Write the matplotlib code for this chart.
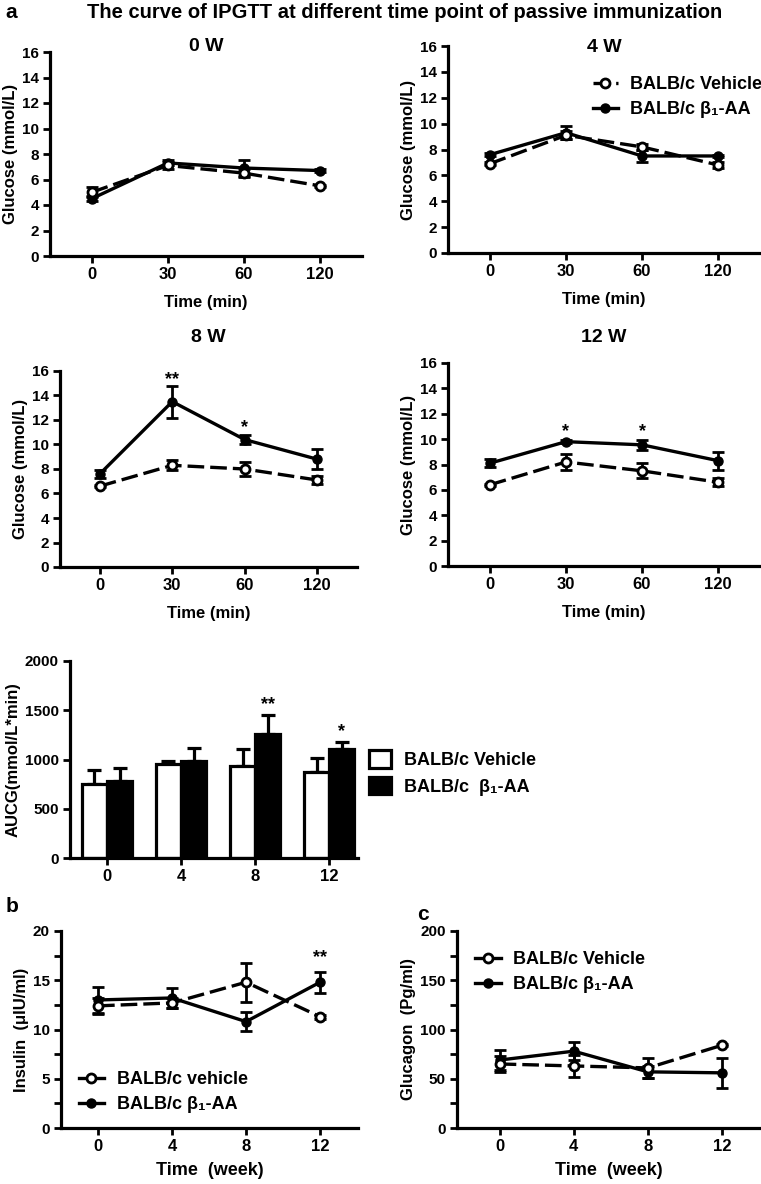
import numpy as np
import matplotlib
matplotlib.use('Agg')
from matplotlib import pyplot as plt
from matplotlib.lines import Line2D
from matplotlib.patches import Patch

plt.rcParams['font.family'] = ['Liberation Sans', 'DejaVu Sans']
plt.rcParams['font.weight'] = 'bold'
plt.rcParams['axes.labelweight'] = 'bold'
plt.rcParams['axes.titleweight'] = 'bold'

# IPGTT glucose curves (mmol/L)
time_labels = ['0', '30', '60', '120']
veh_0w = [5.0, 7.1, 6.5, 5.5]
veh_0w_err = [0.4, 0.3, 0.3, 0.1]
aa_0w = [4.5, 7.3, 6.9, 6.7]
aa_0w_err = [0.2, 0.2, 0.6, 0.1]
veh_4w = [6.9, 9.1, 8.2, 6.8]
veh_4w_err = [0.1, 0.3, 0.2, 0.2]
aa_4w = [7.6, 9.3, 7.5, 7.5]
aa_4w_err = [0.1, 0.5, 0.5, 0.1]
veh_8w = [6.6, 8.3, 8.0, 7.1]
veh_8w_err = [0.1, 0.4, 0.6, 0.3]
aa_8w = [7.6, 13.5, 10.4, 8.8]
aa_8w_err = [0.3, 1.3, 0.4, 0.8]
veh_12w = [6.4, 8.2, 7.5, 6.6]
veh_12w_err = [0.1, 0.6, 0.6, 0.3]
aa_12w = [8.1, 9.8, 9.55, 8.3]
aa_12w_err = [0.3, 0.1, 0.4, 0.7]

# AUCG bars
week_labels = ['0', '4', '8', '12']
auc_veh = [752, 954, 930, 877]
auc_veh_err = [142, 30, 175, 135]
auc_aa = [782, 985, 1258, 1108]
auc_aa_err = [129, 128, 192, 66]

# insulin and glucagon
weeks = [0, 4, 8, 12]
ins_veh = [12.4, 12.7, 14.8, 11.3]
ins_veh_err = [0.8, 0.5, 2.0, 0.2]
ins_aa = [13.0, 13.2, 10.8, 14.8]
ins_aa_err = [1.3, 1.0, 1.0, 1.05]
glc_veh = [65, 63, 61, 84]
glc_veh_err = [8, 11, 10, 1]
glc_aa = [69, 78, 57, 56]
glc_aa_err = [10, 9, 6, 15]

W, H = 761, 1184
FS = 12
TFS = 11
fig = plt.figure(figsize=(W / 100, H / 100), dpi=100)


def add_ax(left, right, top, bottom):
    return fig.add_axes([left / W, 1 - bottom / H, (right - left) / W, (bottom - top) / H])


def style(ax):
    for s in ['top', 'right']:
        ax.spines[s].set_visible(False)
    for s in ['left', 'bottom']:
        ax.spines[s].set_linewidth(2.3)
    ax.tick_params(width=2, length=5, labelsize=TFS, pad=3)
    ax.tick_params(which='minor', width=2, length=5)
    ax.tick_params(axis='x', labelsize=FS)
    for lab in ax.get_xticklabels() + ax.get_yticklabels():
        lab.set_fontweight('bold')


LW = 2.4
DASH = (0, (5, 1.8))


def plot_pair(ax, x, veh, veh_err, aa, aa_err, ms=6.5):
    ax.errorbar(x, aa, yerr=aa_err, color='black', lw=LW, marker='o', ms=ms,
                mfc='black', capsize=4, capthick=2, elinewidth=2, zorder=3)
    ax.errorbar(x, veh, yerr=veh_err, color='black', lw=LW, ls=DASH, marker='o', ms=ms,
                mfc='white', mew=2, capsize=4, capthick=2, elinewidth=2, zorder=4)


def glucose_panel(ax, title, title_y, veh, veh_err, aa, aa_err):
    x = np.arange(len(time_labels))
    plot_pair(ax, x, veh, veh_err, aa, aa_err)
    ax.set_xlim(-0.55, 3.55)
    ax.set_ylim(0, 16)
    ax.set_yticks(np.arange(0, 17, 2))
    ax.set_xticks(x)
    ax.set_xticklabels(time_labels)
    ax.set_ylabel('Glucose (mmol/L)', fontsize=FS, labelpad=3)
    ax.set_xlabel('Time (min)', fontsize=FS, labelpad=9)
    ax.text(0.5, title_y, title, transform=ax.transAxes, ha='center', va='center',
            fontsize=14, fontweight='bold')
    style(ax)


ax1 = add_ax(50, 362, 52, 256)
glucose_panel(ax1, '0 W', 1.025, veh_0w, veh_0w_err, aa_0w, aa_0w_err)
ax2 = add_ax(448, 760, 46, 253)
glucose_panel(ax2, '4 W', 0.995, veh_4w, veh_4w_err, aa_4w, aa_4w_err)
ax3 = add_ax(60, 357, 371, 567)
glucose_panel(ax3, '8 W', 1.17, veh_8w, veh_8w_err, aa_8w, aa_8w_err)
ax4 = add_ax(448, 760, 363, 566)
glucose_panel(ax4, '12 W', 1.128, veh_12w, veh_12w_err, aa_12w, aa_12w_err)

ax3.text(1, 15.3, '**', ha='center', va='center', fontsize=13)
ax3.text(2, 11.4, '*', ha='center', va='center', fontsize=13)
ax4.text(1, 10.6, '*', ha='center', va='center', fontsize=13)
ax4.text(2, 10.6, '*', ha='center', va='center', fontsize=13)

h_veh = Line2D([], [], color='black', lw=LW, ls=DASH, marker='o', ms=6.5, mfc='white', mew=2)
h_aa = Line2D([], [], color='black', lw=LW, marker='o', ms=6.5, mfc='black')
lbl_aa = 'BALB/c β₁-AA'
ax2.legend([h_veh, h_aa], ['BALB/c Vehicle', lbl_aa], loc='upper left',
           bbox_to_anchor=(0.44, 0.89), frameon=False, fontsize=FS + 1,
           handlelength=1.4, handletextpad=0.7, labelspacing=0.45, borderaxespad=0)

# AUCG bar chart
ax5 = add_ax(70, 358, 661, 858)
xb = np.arange(len(week_labels))
bw = 0.34
ax5.bar(xb - bw / 2, auc_veh, bw, color='white', edgecolor='black', lw=2.3, zorder=2)
ax5.bar(xb + bw / 2, auc_aa, bw, color='black', edgecolor='black', lw=2.3, zorder=2)
ax5.errorbar(xb - bw / 2, auc_veh, yerr=[np.zeros(4), auc_veh_err], fmt='none',
             ecolor='black', elinewidth=2.3, capsize=5, capthick=2.3, zorder=1)
ax5.errorbar(xb + bw / 2, auc_aa, yerr=[np.zeros(4), auc_aa_err], fmt='none',
             ecolor='black', elinewidth=2.3, capsize=5, capthick=2.3, zorder=1)
ax5.set_xlim(-0.5, 3.39)
ax5.set_ylim(0, 2000)
ax5.set_yticks([0, 500, 1000, 1500, 2000])
ax5.set_xticks(xb)
ax5.set_xticklabels(week_labels)
ax5.set_ylabel('AUCG(mmol/L*min)', fontsize=FS, labelpad=3)
ax5.text(2 + bw / 2, 1560, '**', ha='center', va='center', fontsize=13)
ax5.text(3 + bw / 2, 1280, '*', ha='center', va='center', fontsize=13)
style(ax5)
ax5.legend([Patch(facecolor='white', edgecolor='black', lw=2.3),
            Patch(facecolor='black', edgecolor='black', lw=2.3)],
           ['BALB/c Vehicle', 'BALB/c  β₁-AA'], loc='upper left',
           bbox_to_anchor=(0.0, 0.59), bbox_transform=ax5.transAxes, frameon=False,
           fontsize=FS + 1, handlelength=1.2, handleheight=1.1, handletextpad=0.7,
           labelspacing=0.45, borderaxespad=0)
ax5.get_legend().set_bbox_to_anchor((362 / W, 1 - 743 / H), transform=fig.transFigure)

# insulin
ax6 = add_ax(61, 358, 931, 1128)
plot_pair(ax6, weeks, ins_veh, ins_veh_err, ins_aa, ins_aa_err)
ax6.set_xlim(-2, 14.05)
ax6.set_ylim(0, 20)
ax6.set_yticks([0, 5, 10, 15, 20])
ax6.set_yticks(np.arange(0, 20.1, 2.5), minor=True)
ax6.set_xticks(weeks)
ax6.set_ylabel('Insulin  (μIU/ml)', fontsize=FS, labelpad=3)
ax6.set_xlabel('Time  (week)', fontsize=FS + 1, labelpad=6)
ax6.text(12, 17.3, '**', ha='center', va='center', fontsize=13)
style(ax6)
h_veh2 = Line2D([], [], color='black', lw=LW, marker='o', ms=6.5, mfc='white', mew=2)
ax6.legend([h_veh2, h_aa], ['BALB/c vehicle', lbl_aa], loc='upper left',
           bbox_to_anchor=(0.035, 0.325), frameon=False, fontsize=FS + 1,
           handlelength=1.4, handletextpad=0.7, labelspacing=0.45, borderaxespad=0)

# glucagon
ax7 = add_ax(457, 760, 931, 1128)
plot_pair(ax7, weeks, glc_veh, glc_veh_err, glc_aa, glc_aa_err)
ax7.set_xlim(-2.3, 14.05)
ax7.set_ylim(0, 200)
ax7.set_yticks([0, 50, 100, 150, 200])
ax7.set_yticks(np.arange(0, 201, 25), minor=True)
ax7.set_xticks(weeks)
ax7.set_ylabel('Glucagon  (Pg/ml)', fontsize=FS, labelpad=3)
ax7.set_xlabel('Time  (week)', fontsize=FS + 1, labelpad=6)
style(ax7)
ax7.legend([h_veh2, h_aa], ['BALB/c Vehicle', lbl_aa], loc='upper left',
           bbox_to_anchor=(0.037, 0.935), frameon=False, fontsize=FS + 1,
           handlelength=1.4, handletextpad=0.7, labelspacing=0.45, borderaxespad=0)

fig.text(405 / W, 1 - 12 / H, 'The curve of IPGTT at different time point of passive immunization',
         ha='center', va='center', fontsize=14.5, fontweight='bold')
fig.text(5 / W, 1 - 12 / H, 'a', ha='left', va='center', fontsize=15, fontweight='bold')
fig.text(6 / W, 1 - 906 / H, 'b', ha='left', va='center', fontsize=15, fontweight='bold')
fig.text(417 / W, 1 - 915 / H, 'c', ha='left', va='center', fontsize=15, fontweight='bold')

fig.savefig('out.png', dpi=100)
